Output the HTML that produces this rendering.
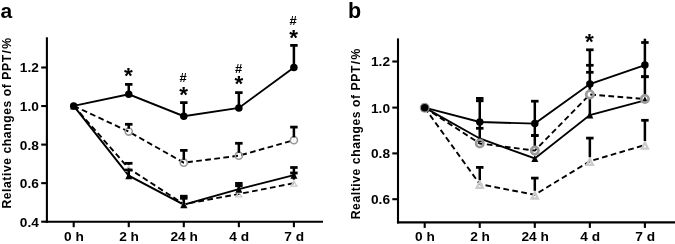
<!DOCTYPE html>
<html><head><meta charset="utf-8"><title>Relative changes of PPT</title>
<style>
html,body{margin:0;padding:0;background:#fff}
svg{display:block}
text{font-family:"Liberation Sans",sans-serif;fill:#000}
</style></head>
<body>
<svg width="675" height="244" viewBox="0 0 675 244">
<rect width="675" height="244" fill="#fff"/>
<g id="panel-a">
<path d="M46.9 37.3V222.75" stroke="#000" stroke-width="2.1" fill="none"/>
<path d="M45.85 221.7H323" stroke="#000" stroke-width="2.1" fill="none"/>
<path d="M41.2 67.5H46.9" stroke="#000" stroke-width="2.1"/>
<text x="38.9" y="72.45" font-size="13.7" font-weight="bold" text-anchor="end">1.2</text>
<path d="M41.2 106.05H46.9" stroke="#000" stroke-width="2.1"/>
<text x="38.9" y="111" font-size="13.7" font-weight="bold" text-anchor="end">1.0</text>
<path d="M41.2 144.6H46.9" stroke="#000" stroke-width="2.1"/>
<text x="38.9" y="149.55" font-size="13.7" font-weight="bold" text-anchor="end">0.8</text>
<path d="M41.2 183.15H46.9" stroke="#000" stroke-width="2.1"/>
<text x="38.9" y="188.1" font-size="13.7" font-weight="bold" text-anchor="end">0.6</text>
<path d="M41.2 221.7H46.9" stroke="#000" stroke-width="2.1"/>
<text x="38.9" y="226.65" font-size="13.7" font-weight="bold" text-anchor="end">0.4</text>
<path d="M73.7 221.7V227.2" stroke="#000" stroke-width="2.1"/>
<text x="74" y="241.4" font-size="13.7" font-weight="bold" text-anchor="middle">0 h</text>
<path d="M128.75 221.7V227.2" stroke="#000" stroke-width="2.1"/>
<text x="129.05" y="241.4" font-size="13.7" font-weight="bold" text-anchor="middle">2 h</text>
<path d="M183.8 221.7V227.2" stroke="#000" stroke-width="2.1"/>
<text x="184.1" y="241.4" font-size="13.7" font-weight="bold" text-anchor="middle">24 h</text>
<path d="M238.85 221.7V227.2" stroke="#000" stroke-width="2.1"/>
<text x="239.15" y="241.4" font-size="13.7" font-weight="bold" text-anchor="middle">4 d</text>
<path d="M293.9 221.7V227.2" stroke="#000" stroke-width="2.1"/>
<text x="294.2" y="241.4" font-size="13.7" font-weight="bold" text-anchor="middle">7 d</text>
<text x="0" y="0" font-size="12.2" font-weight="bold" text-anchor="middle" dx="0 0 0 0 0 0 0 0 0 0 0 0 0 0 0 0 0 0 0 0 0 0 0 0.8 0.8" letter-spacing="0.55" transform="translate(10.9 123) rotate(-90)">Relative changes of PPT/%</text>
<text x="0.6" y="17.8" font-size="21" font-weight="bold" text-anchor="start">a</text>
<polyline points="73.7,105.9 128.75,168.4 183.8,204.2 238.85,194 293.9,183.2" fill="none" stroke="#000" stroke-width="1.9" stroke-dasharray="5.7 3.4"/>
<polyline points="73.7,105.9 128.75,131.6 183.8,162.7 238.85,155.7 293.9,140.2" fill="none" stroke="#000" stroke-width="1.9" stroke-dasharray="5.7 3.4"/>
<polyline points="73.7,105.9 128.75,175.7 183.8,204.7 238.85,189.2 293.9,175.2" fill="none" stroke="#000" stroke-width="1.9"/>
<polyline points="73.7,105.9 128.75,94.3 183.8,116.2 238.85,107.9 293.9,67.5" fill="none" stroke="#000" stroke-width="1.9"/>
<path d="M128.75 166.2L131.65 171.3H125.85Z" fill="none" stroke="#ccc" stroke-width="1.4" stroke-linejoin="miter"/>
<path d="M183.8 202L186.7 207.1H180.9Z" fill="none" stroke="#ccc" stroke-width="1.4" stroke-linejoin="miter"/>
<path d="M238.85 191.8L241.75 196.9H235.95Z" fill="none" stroke="#ccc" stroke-width="1.4" stroke-linejoin="miter"/>
<path d="M293.9 181L296.8 186.1H291Z" fill="none" stroke="#ccc" stroke-width="1.4" stroke-linejoin="miter"/>
<circle cx="128.75" cy="131.6" r="3.55" fill="none" stroke="#999" stroke-width="1.6"/>
<circle cx="183.8" cy="162.7" r="3.55" fill="none" stroke="#999" stroke-width="1.6"/>
<circle cx="238.85" cy="155.7" r="3.55" fill="none" stroke="#999" stroke-width="1.6"/>
<circle cx="293.9" cy="140.2" r="3.55" fill="none" stroke="#999" stroke-width="1.6"/>
<path d="M128.75 164.8V163.3" stroke="#000" stroke-width="2.5" fill="none"/><path d="M125 163.3H132.5" stroke="#000" stroke-width="2.75" fill="none"/>
<path d="M183.8 200.6V196.2" stroke="#000" stroke-width="2.5" fill="none"/><path d="M180.05 196.2H187.55" stroke="#000" stroke-width="2.75" fill="none"/>
<path d="M238.85 190.4V183.4" stroke="#000" stroke-width="2.5" fill="none"/><path d="M235.1 183.4H242.6" stroke="#000" stroke-width="2.75" fill="none"/>
<path d="M293.9 179.6V173" stroke="#000" stroke-width="2.5" fill="none"/><path d="M290.15 173H297.65" stroke="#000" stroke-width="2.75" fill="none"/>
<path d="M128.75 128.7V124.3" stroke="#000" stroke-width="2.5" fill="none"/><path d="M125 124.3H132.5" stroke="#000" stroke-width="2.75" fill="none"/>
<path d="M183.8 159.8V150.4" stroke="#000" stroke-width="2.5" fill="none"/><path d="M180.05 150.4H187.55" stroke="#000" stroke-width="2.75" fill="none"/>
<path d="M238.85 152.8V143.3" stroke="#000" stroke-width="2.5" fill="none"/><path d="M235.1 143.3H242.6" stroke="#000" stroke-width="2.75" fill="none"/>
<path d="M293.9 137.3V127.1" stroke="#000" stroke-width="2.5" fill="none"/><path d="M290.15 127.1H297.65" stroke="#000" stroke-width="2.75" fill="none"/>
<path d="M128.75 175.7V170" stroke="#000" stroke-width="2.5" fill="none"/><path d="M125 170H132.5" stroke="#000" stroke-width="2.75" fill="none"/>
<path d="M183.8 204.7V198.3" stroke="#000" stroke-width="2.5" fill="none"/><path d="M180.05 198.3H187.55" stroke="#000" stroke-width="2.75" fill="none"/>
<path d="M238.85 189.2V185.7" stroke="#000" stroke-width="2.5" fill="none"/><path d="M235.1 185.7H242.6" stroke="#000" stroke-width="2.75" fill="none"/>
<path d="M293.9 175.2V167.5" stroke="#000" stroke-width="2.5" fill="none"/><path d="M290.15 167.5H297.65" stroke="#000" stroke-width="2.75" fill="none"/>
<path d="M128.75 94.3V84.4" stroke="#000" stroke-width="2.5" fill="none"/><path d="M125 84.4H132.5" stroke="#000" stroke-width="2.75" fill="none"/>
<path d="M183.8 116.2V102.6" stroke="#000" stroke-width="2.5" fill="none"/><path d="M180.05 102.6H187.55" stroke="#000" stroke-width="2.75" fill="none"/>
<path d="M238.85 107.9V92.6" stroke="#000" stroke-width="2.5" fill="none"/><path d="M235.1 92.6H242.6" stroke="#000" stroke-width="2.75" fill="none"/>
<path d="M293.9 67.5V45.4" stroke="#000" stroke-width="2.5" fill="none"/><path d="M290.15 45.4H297.65" stroke="#000" stroke-width="2.75" fill="none"/>
<path d="M73.7 102.4L77.2 109.4H70.2Z" fill="#000"/>
<path d="M128.75 172.2L132.25 179.2H125.25Z" fill="#000"/>
<path d="M183.8 201.2L187.3 208.2H180.3Z" fill="#000"/>
<path d="M238.85 185.7L242.35 192.7H235.35Z" fill="#000"/>
<path d="M293.9 171.7L297.4 178.7H290.4Z" fill="#000"/>
<circle cx="73.7" cy="105.9" r="3.75" fill="#000"/>
<circle cx="128.75" cy="94.3" r="3.75" fill="#000"/>
<circle cx="183.8" cy="116.2" r="3.75" fill="#000"/>
<circle cx="238.85" cy="107.9" r="3.75" fill="#000"/>
<circle cx="293.9" cy="67.5" r="3.75" fill="#000"/>
<text x="128.5" y="83.1" font-size="22.5" font-weight="bold" text-anchor="middle">*</text>
<text x="183.2" y="82.1" font-size="13" font-weight="bold" text-anchor="middle">#</text>
<text x="183.6" y="101.6" font-size="22.5" font-weight="bold" text-anchor="middle">*</text>
<text x="238.6" y="72.7" font-size="13" font-weight="bold" text-anchor="middle">#</text>
<text x="238.8" y="91.2" font-size="22.5" font-weight="bold" text-anchor="middle">*</text>
<text x="293.2" y="25.1" font-size="13" font-weight="bold" text-anchor="middle">#</text>
<text x="293.6" y="44.9" font-size="22.5" font-weight="bold" text-anchor="middle">*</text>
</g>
<g id="panel-b">
<path d="M398 38.4V223.45" stroke="#000" stroke-width="2.1" fill="none"/>
<path d="M396.95 222.4H675" stroke="#000" stroke-width="2.1" fill="none"/>
<path d="M392.3 61.5H398" stroke="#000" stroke-width="2.1"/>
<text x="390" y="66.45" font-size="13.7" font-weight="bold" text-anchor="end">1.2</text>
<path d="M392.3 107.6H398" stroke="#000" stroke-width="2.1"/>
<text x="390" y="112.55" font-size="13.7" font-weight="bold" text-anchor="end">1.0</text>
<path d="M392.3 153.4H398" stroke="#000" stroke-width="2.1"/>
<text x="390" y="158.35" font-size="13.7" font-weight="bold" text-anchor="end">0.8</text>
<path d="M392.3 199.2H398" stroke="#000" stroke-width="2.1"/>
<text x="390" y="204.15" font-size="13.7" font-weight="bold" text-anchor="end">0.6</text>
<path d="M424.7 222.4V227.9" stroke="#000" stroke-width="2.1"/>
<text x="425" y="241.4" font-size="13.7" font-weight="bold" text-anchor="middle">0 h</text>
<path d="M479.75 222.4V227.9" stroke="#000" stroke-width="2.1"/>
<text x="480.05" y="241.4" font-size="13.7" font-weight="bold" text-anchor="middle">2 h</text>
<path d="M534.8 222.4V227.9" stroke="#000" stroke-width="2.1"/>
<text x="535.1" y="241.4" font-size="13.7" font-weight="bold" text-anchor="middle">24 h</text>
<path d="M589.85 222.4V227.9" stroke="#000" stroke-width="2.1"/>
<text x="590.15" y="241.4" font-size="13.7" font-weight="bold" text-anchor="middle">4 d</text>
<path d="M644.9 222.4V227.9" stroke="#000" stroke-width="2.1"/>
<text x="645.2" y="241.4" font-size="13.7" font-weight="bold" text-anchor="middle">7 d</text>
<text x="0" y="0" font-size="12.2" font-weight="bold" text-anchor="middle" dx="0 0 0 0 0 0 0 0 0 0 0 0 0 0 0 0 0 0 0 0 0 0 0 0.8 0.8" letter-spacing="0.55" transform="translate(360 133.7) rotate(-90)">Realtive changes of PPT/%</text>
<text x="348" y="18.3" font-size="21.5" font-weight="bold" text-anchor="start">b</text>
<polyline points="424.7,107.7 479.75,184.2 534.8,194.8 589.85,161.2 644.9,145" fill="none" stroke="#000" stroke-width="1.9" stroke-dasharray="5.7 3.4"/>
<polyline points="424.7,107.7 479.75,143.5 534.8,150.6 589.85,94.5 644.9,99" fill="none" stroke="#000" stroke-width="1.9" stroke-dasharray="5.7 3.4"/>
<polyline points="424.7,107.7 479.75,138.5 534.8,158.4 589.85,115 644.9,100.3" fill="none" stroke="#000" stroke-width="1.9"/>
<polyline points="424.7,107.7 479.75,122 534.8,123.6 589.85,84 644.9,65.1" fill="none" stroke="#000" stroke-width="1.9"/>
<path d="M479.75 181.7L482.85 187.9H476.65Z" fill="none" stroke="#ccc" stroke-width="2.3" stroke-linejoin="miter"/>
<path d="M534.8 192.3L537.9 198.5H531.7Z" fill="none" stroke="#ccc" stroke-width="2.3" stroke-linejoin="miter"/>
<path d="M589.85 158.7L592.95 164.9H586.75Z" fill="none" stroke="#ccc" stroke-width="2.3" stroke-linejoin="miter"/>
<path d="M644.9 142.5L648 148.7H641.8Z" fill="none" stroke="#ccc" stroke-width="2.3" stroke-linejoin="miter"/>
<path d="M479.75 180.2V167.4" stroke="#000" stroke-width="2.5" fill="none"/><path d="M476 167.4H483.5" stroke="#000" stroke-width="2.75" fill="none"/>
<path d="M534.8 190.8V178.1" stroke="#000" stroke-width="2.5" fill="none"/><path d="M531.05 178.1H538.55" stroke="#000" stroke-width="2.75" fill="none"/>
<path d="M589.85 157.2V138.1" stroke="#000" stroke-width="2.5" fill="none"/><path d="M586.1 138.1H593.6" stroke="#000" stroke-width="2.75" fill="none"/>
<path d="M644.9 141V120.3" stroke="#000" stroke-width="2.5" fill="none"/><path d="M641.15 120.3H648.65" stroke="#000" stroke-width="2.75" fill="none"/>
<path d="M479.75 98.4V139.5" stroke="#000" stroke-width="2.5" fill="none"/>
<path d="M534.8 101.2V146.6" stroke="#000" stroke-width="2.5" fill="none"/>
<path d="M589.85 49.8V92" stroke="#000" stroke-width="2.5" fill="none"/>
<path d="M589.85 97V115" stroke="#000" stroke-width="2.5" fill="none"/>
<path d="M644.9 38.7V95" stroke="#000" stroke-width="2.5" fill="none"/>
<path d="M476 98.4H483.5" stroke="#000" stroke-width="2.75" fill="none"/>
<path d="M476 128.3H483.5" stroke="#000" stroke-width="2.75" fill="none"/>
<path d="M476 100.8H483.5" stroke="#000" stroke-width="2.75" fill="none"/>
<path d="M531.05 101.2H538.55" stroke="#000" stroke-width="2.75" fill="none"/>
<path d="M531.05 135.5H538.55" stroke="#000" stroke-width="2.75" fill="none"/>
<path d="M531.05 135.5H538.55" stroke="#000" stroke-width="2.75" fill="none"/>
<path d="M586.1 49.8H593.6" stroke="#000" stroke-width="2.75" fill="none"/>
<path d="M586.1 65.3H593.6" stroke="#000" stroke-width="2.75" fill="none"/>
<path d="M586.1 72.3H593.6" stroke="#000" stroke-width="2.75" fill="none"/>
<path d="M641.15 42.5H648.65" stroke="#000" stroke-width="2.75" fill="none"/>
<path d="M641.15 76.7H648.65" stroke="#000" stroke-width="2.75" fill="none"/>
<path d="M641.15 76.7H648.65" stroke="#000" stroke-width="2.75" fill="none"/>
<path d="M424.7 104.2L428.2 111.2H421.2Z" fill="#000"/>
<path d="M479.75 135L483.25 142H476.25Z" fill="#000"/>
<path d="M534.8 154.9L538.3 161.9H531.3Z" fill="#000"/>
<path d="M589.85 111.5L593.35 118.5H586.35Z" fill="#000"/>
<path d="M644.9 96.5L647.6 101.5H642.2Z" fill="#000"/>
<circle cx="424.7" cy="107.7" r="3.7" fill="none" stroke="#999" stroke-width="2.6"/>
<circle cx="479.75" cy="143.5" r="3.7" fill="none" stroke="#999" stroke-width="2.6"/>
<circle cx="534.8" cy="150.6" r="3.7" fill="none" stroke="#999" stroke-width="2.6"/>
<circle cx="589.85" cy="94.5" r="3.7" fill="none" stroke="#999" stroke-width="2.6"/>
<circle cx="644.9" cy="99" r="3.7" fill="none" stroke="#999" stroke-width="2.6"/>
<circle cx="424.7" cy="107.7" r="3.75" fill="#000"/>
<circle cx="479.75" cy="122" r="3.75" fill="#000"/>
<circle cx="534.8" cy="123.6" r="3.75" fill="#000"/>
<circle cx="589.85" cy="84" r="3.75" fill="#000"/>
<circle cx="644.9" cy="65.1" r="3.75" fill="#000"/>
<text x="589.5" y="48.9" font-size="22.5" font-weight="bold" text-anchor="middle">*</text>
</g>
</svg>
</body></html>
